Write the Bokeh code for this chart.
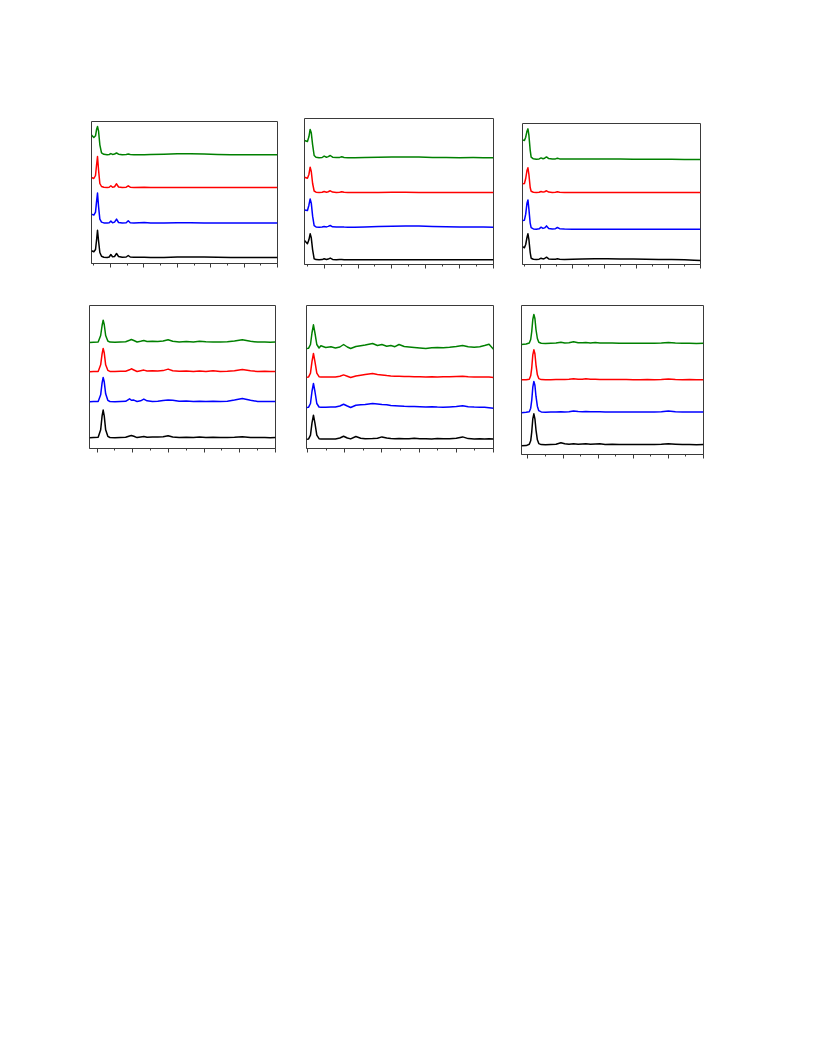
from bokeh.plotting import figure
from bokeh.layouts import column, row
from bokeh.models import Range1d, FixedTicker, CustomJSTickFormatter
from bokeh.embed import file_html
from bokeh.resources import INLINE

# ---------------- data (2-theta, intensity in arbitrary units) ----------------
COLORS = ["#000000", "#0000ff", "#ff0000", "#008000"]  # black, blue, red, green

# panel 1 (top left)
p1_x = [4.3, 5.0, 5.5, 5.8, 6.1, 6.4, 6.8, 7.3, 8.0, 9.0, 9.6, 10.1, 10.6, 11.2, 11.8, 12.4, 13.5,
        14.7, 15.3, 15.9, 17.0, 20.1, 22, 26, 30, 34, 38, 42, 46, 50, 54, 57, 60]
p1_black = [6.7, 5.7, 8, 17, 27.3, 17, 5, 1.2, 0.3, 0, 0.5, 3, 0.8, 1, 4, 1, 0.2, 0.5, 2, 0.5, 0.2,
            0.3, 0, 0, 0.5, 0.6, 0.4, 0.2, 0, 0, 0.1, 0, 0]
p1_blue = [9, 8, 11, 21, 30, 17, 4, 1, 0.2, 0, 0.4, 2, 0.4, 1, 4, 0.6, 0.1, 0.4, 2.3, 0.4, 0.1,
           0.7, 0, 0.1, 0.3, 0.3, 0.2, 0.1, 0, 0, 0, 0, 0]
p1_red = [10, 9, 12, 22, 31, 18, 4, 1, 0.2, 0, 0.3, 1.7, 0.3, 0.8, 3.7, 0.5, 0, 0.3, 1.7, 0.3, 0,
          0.3, 0, 0, 0, 0, 0, 0, 0, 0, 0, 0, 0]
p1_green = [19.7, 17.3, 19, 25, 28.3, 24, 10, 2, 0.5, 0, 0.3, 1.2, 0.4, 0.8, 1.8, 0.6, 0.1, 0.3, 0.8,
            0.3, 0, 0, 0.2, 0.6, 1.0, 1.0, 0.7, 0.4, 0.1, 0, 0, 0.1, 0]
p1_offsets = [6, 40.4, 76, 108.7]

# panel 2 (top middle)
p2_x = [4.2, 5.07, 5.5, 5.87, 6.2, 6.6, 7.05, 7.6, 8.5, 9.4, 10.0, 10.7, 11.2, 11.8, 12.5, 13.6,
        14.6, 15.2, 15.9, 17, 19, 22, 26, 30, 34, 38, 42, 46, 50, 54, 57, 60]
p2_black = [19.3, 16, 20, 26, 22, 10, 1, 0.2, 0, 0.2, 1.0, 0.3, 0.7, 1.7, 0.4, 0.1, 0.2, 0.3, 0.1, 0,
            0, 0, 0, 0, 0, 0, 0, 0, 0, 0, 0, 0]
p2_blue = [17.3, 16.7, 22, 28.3, 24, 11, 1.5, 0.3, 0, 0.2, 0.7, 0.3, 0.8, 1.7, 0.4, 0.1, 0.2, 0.3,
           0.1, 0, 0, 0.2, 0.6, 1.0, 1.3, 1.2, 0.8, 0.5, 0.3, 0.2, 0.1, 0]
p2_red = [15.3, 14.3, 18, 25.3, 21, 9, 1.5, 0.3, 0, 0.2, 1.0, 0.3, 0.8, 1.7, 0.4, 0.1, 0.2, 0.7, 0.2,
          0, 0, 0, 0.1, 0.2, 0.2, 0.1, 0, 0, 0, 0, 0, 0]
p2_green = [17.3, 16.3, 21, 28.3, 25, 13, 2.3, 0.5, 0, 0.3, 1.7, 0.6, 1.2, 2.3, 0.6, 0.2, 0.4, 1.0,
            0.3, 0.1, 0, 0.2, 0.5, 0.8, 0.9, 0.7, 0.4, 0.2, 0.1, 0.2, 0.1, 0]
p2_offsets = [4.7, 37.3, 72, 106.7]

# panel 3 (top right)
p3_x = [4.4, 5.0, 5.4, 5.8, 6.1, 6.4, 6.8, 7.1, 7.8, 8.7, 9.6, 10.2, 10.8, 11.3, 11.9, 12.6, 13.7,
        14.7, 15.3, 16, 17.5, 20, 23, 27, 31, 35, 39, 43, 47, 51, 55, 58, 60]
p3_black = [13, 11.7, 15, 22, 25.7, 20, 7, 1.3, 0.3, 0, 0.3, 1.3, 0.6, 1.0, 2.3, 0.6, 0.2, 0.3, 0.7,
            0.3, 0.1, 0.3, 0.6, 0.8, 0.8, 0.6, 0.4, 0.2, 0.1, 0, -0.3, -0.8, -1.0]
p3_blue = [8.7, 9, 15, 26, 29.3, 20, 6, 1.5, 0.3, 0, 0.4, 2.0, 0.8, 1.3, 3.3, 0.8, 0.2, 0.5, 1.7, 0.5,
           0.1, 0, 0, 0, 0, 0, 0, 0, 0, 0, 0, 0, 0]
p3_red = [8.7, 9, 14, 22, 24.7, 18, 5, 1.2, 0.3, 0, 0.2, 1.0, 0.4, 0.8, 1.7, 0.4, 0.1, 0.2, 0.7, 0.2,
          0, 0, 0.1, 0.1, 0.1, 0, 0, 0, 0, 0, 0, 0, 0]
p3_green = [19.3, 18.7, 22, 28, 30.3, 24, 9, 2, 0.4, 0, 0.3, 1.3, 0.5, 1.0, 2.3, 0.6, 0.2, 0.3, 1.0,
            0.3, 0.1, 0.1, 0.2, 0.3, 0.2, 0.1, 0, 0, 0, -0.1, -0.2, -0.3, -0.3]
p3_offsets = [5, 35.3, 72, 105.3]

# panel 4 (bottom left)
p4_x = [7.9, 9, 10.3, 11.0, 11.4, 11.7, 12.0, 12.4, 13.0, 13.6, 15, 16.5, 18, 19.1, 19.6, 20.3, 21.2,
        22.2, 23.1, 24, 25.5, 27, 28.5, 29.9, 31.2, 33, 35, 37, 38.7, 40.5, 42.5, 44.5, 46.5, 48.5,
        50.7, 53, 55, 57, 58.5, 60]
p4_black = [0, 0.3, 0.5, 8, 22, 27.7, 22, 8, 1.5, 0.3, 0, 0.4, 0.5, 1.8, 2.3, 1.5, 0.2, 0.8, 1.3, 0.6,
            0.9, 0.7, 1.0, 2.0, 0.8, 0.3, 0.5, 0.2, 0.8, 0.3, 0.5, 0.2, 0.3, 0.5, 1.0, 0.4, 0.2, 0.4,
            0.1, 0.3]
p4_blue = [0, 0.2, 0.4, 7, 19, 24.3, 20, 8, 1.5, 0.3, 0, 0.3, 0.5, 3.0, 1.5, 1.7, 0.3, 1.0, 2.7, 1.0,
           0.4, 0.6, 1.4, 1.7, 1.5, 0.5, 0.8, 0.4, 0.6, 0.3, 0.5, 0.3, 0.6, 1.8, 3.3, 1.5, 0.4, 0.3,
           0.2, 0.3]
p4_red = [0, 0.3, 0.4, 7, 18, 23.3, 19, 7, 1.5, 0.4, 0.2, 0.5, 0.6, 2.0, 3.0, 1.8, 0.3, 1.0, 1.7, 0.8,
          1.0, 0.9, 1.2, 2.7, 1.0, 0.5, 0.8, 0.3, 0.9, 0.4, 1.1, 0.4, 0.6, 1.0, 2.3, 1.0, 0.3, 0.5,
          0.2, 0.3]
p4_green = [0, 0.3, 0.5, 7, 17, 22.3, 18, 7, 1.5, 0.4, 0.3, 0.6, 0.8, 2.2, 3.0, 2.0, 0.5, 1.2, 2.0,
            1.0, 1.2, 1.0, 1.4, 2.7, 1.2, 0.6, 0.9, 0.5, 1.2, 0.7, 0.6, 0.4, 0.7, 1.5, 2.7, 1.2, 0.4,
            0.6, 0.3, 0.4]
p4_offsets = [10.7, 46.7, 76.7, 106]

# panel 5 (bottom middle)
p5_x = [9.73, 10.3, 10.8, 11.2, 11.6, 12.0, 12.5, 13.1, 13.6, 14.9, 16.3, 17.5, 18.7, 19.7, 20.7,
        21.6, 23.0, 24.3, 25.5, 27.5, 28.8, 30.0, 31.3, 32.4, 33.5, 34.6, 36.0, 37.3, 38.7, 40.2,
        41.8, 43.4, 44.9, 46.5, 48.2, 50.0, 51.7, 53.2, 54.8, 56.3, 57.6, 58.8, 60.0]
p5_black = [0, 0.3, 4, 16, 24, 16, 4, 0.5, 0.2, 0.1, 0.3, 0.2, 1.2, 3, 1.2, 0.3, 2.7, 1.0, 0.5, 0.6,
            1.0, 2.3, 1.2, 0.6, 0.5, 0.7, 0.4, 0.5, 1.0, 0.4, 0.5, 0.3, 0.6, 0.4, 0.5, 1.0, 2.3, 0.6,
            0.3, 0.5, 0.3, 0.4, 0.3]
p5_blue = [0, 0.3, 4, 16, 24, 16, 4, 0.5, 0.3, 0.2, 0.4, 0.4, 1.5, 3.3, 1.5, 0, 2.3, 2.7, 3.0, 4.0,
           3.5, 3.0, 2.8, 2.0, 1.8, 1.6, 1.2, 1.0, 1.0, 0.8, 0.5, 0.7, 0.4, 0.3, 0.6, 1.0, 1.7, 0.8,
           0.4, 0.2, 0.3, -0.2, -0.7]
p5_red = [0, 0.3, 4, 15.5, 23.7, 15.5, 4, 0.5, 0.2, 0.3, 0.2, 0.3, 1.0, 2.3, 1.0, -0.3, 1.2, 2.0, 2.7,
          3.7, 2.8, 2.3, 1.6, 1.2, 1.0, 1.0, 0.7, 0.6, 0.5, 0.4, 0.3, 0.5, 0.2, 0.4, 0.5, 0.8, 1.0,
          0.5, 0.2, 0.3, 0.1, 0.2, -0.3]
p5_green = [0, 0.3, 4, 15.5, 23.7, 15.5, 4, 0.5, 2.7, 1.0, 1.7, 0.6, 1.5, 4.0, 1.5, 0, 2.0, 2.8, 3.5,
            5.0, 3.0, 4.0, 2.3, 3.0, 1.8, 4.0, 2.0, 1.5, 1.0, 0.5, 0, 0.8, 1.0, 0.8, 1.2, 2.0, 3.0,
            1.8, 1.3, 1.8, 3.0, 4.3, -0.7]
p5_offsets = [9.3, 41, 71.3, 100]

# panel 6 (bottom right)
p6_x = [8.18, 9.5, 10.4, 10.8, 11.1, 11.4, 11.7, 12.0, 12.3, 12.7, 13.1, 13.8, 15, 16.5, 18, 19.4,
        20.5, 21.7, 23.0, 24.3, 25.5, 26.5, 27.8, 29.2, 30.5, 32, 34, 36, 38, 40, 42, 44, 46, 48, 50,
        52, 54, 56, 58, 60]
p6_black = [-1, -0.8, 0.5, 4, 13, 26, 31, 26, 15, 5, 1.2, 0.2, 0, 0.2, 0.5, 2.0, 1.0, 0.5, 1.0, 0.6,
            0.8, 1.0, 0.6, 0.8, 1.0, 0.4, 0.5, 0.2, 0.4, 0.3, 0.2, 0.4, 0.2, 0.5, 1.0, 0.6, 0.2, 0.3,
            0.1, 0.2]
p6_blue = [-0.5, 0, 0.5, 4, 12, 25, 30.7, 27, 16, 6, 1.5, 0.3, 0, 0.2, 0.3, 0.5, 0.3, 0.5, 1.3, 0.6,
           0.5, 0.8, 0.4, 0.5, 0.4, 0.2, 0.3, 0.1, 0.2, 0.2, 0.1, 0.3, 0.2, 0.4, 1.3, 0.5, 0.2, 0.2,
           0.1, 0.2]
p6_red = [0, 0, 0.5, 4, 12, 25, 30, 26, 15, 5, 1.2, 0.2, 0, 0.1, 0.2, 0.4, 0.3, 0.5, 1.0, 0.5, 0.6,
          1.0, 0.5, 0.6, 0.4, 0.2, 0.3, 0.2, 0.2, 0.1, 0.1, 0.2, 0.1, 0.3, 0.7, 0.3, 0.1, 0.2, 0.1, 0.1]
p6_green = [-1, -0.5, 0.5, 4, 12, 24, 29, 25, 14, 5, 1.2, 0.3, 0.1, 0.3, 0.4, 1.3, 0.5, 0.8, 1.7, 0.8,
            0.7, 0.9, 0.6, 1.0, 0.6, 0.4, 0.5, 0.3, 0.3, 0.2, 0.2, 0.3, 0.2, 0.4, 1.0, 0.5, 0.2, 0.3,
            0.1, 0.2]
p6_offsets = [9.7, 42.3, 74.7, 111]

TOP_MAJOR = [10, 20, 30, 40, 50, 60]
TOP_MINOR = [5, 15, 25, 35, 45, 55]
BOT_MAJOR = [10, 20, 30, 40, 50, 60]
BOT_MINOR = [15, 25, 35, 45, 55]

FRAME = "#3a3a3a"


def make_panel(x, traces, offsets, x0, ytop, major, minor, geom):
    w, h, bl, br, bt, bb = geom
    p = figure(width=w, height=h, x_range=Range1d(x0, 60), y_range=Range1d(0, ytop),
               output_backend="svg", toolbar_location=None, y_axis_location=None,
               min_border_left=bl, min_border_right=br, min_border_top=bt,
               min_border_bottom=bb)
    p.xgrid.visible = False
    p.ygrid.visible = False
    p.outline_line_color = FRAME
    p.outline_line_width = 1
    p.background_fill_color = "white"
    p.border_fill_color = "white"
    ax = p.xaxis[0]
    ax.ticker = FixedTicker(ticks=major, minor_ticks=minor)
    ax.formatter = CustomJSTickFormatter(code="return ''")
    ax.major_label_standoff = 0
    ax.major_label_text_font_size = "2px"
    ax.axis_line_color = FRAME
    ax.major_tick_line_color = FRAME
    ax.minor_tick_line_color = FRAME
    ax.major_tick_in = 0
    ax.major_tick_out = 4
    ax.minor_tick_in = 0
    ax.minor_tick_out = 2
    for ys, off, col in zip(traces, offsets, COLORS):
        p.line(x, [off + v for v in ys], line_color=col, line_width=1.5, line_join="round")
    return p


f1 = make_panel(p1_x, [p1_black, p1_blue, p1_red, p1_green], p1_offsets, 4.3, 142,
                TOP_MAJOR, TOP_MINOR, (292, 290, 91, 15, 121, 27))
f2 = make_panel(p2_x, [p2_black, p2_blue, p2_red, p2_green], p2_offsets, 4.2, 146,
                TOP_MAJOR, TOP_MINOR, (216, 290, 12, 15, 118, 26))
f3 = make_panel(p3_x, [p3_black, p3_blue, p3_red, p3_green], p3_offsets, 4.4, 141,
                TOP_MAJOR, TOP_MINOR, (208, 290, 14, 16, 123, 26))
f4 = make_panel(p4_x, [p4_black, p4_blue, p4_red, p4_green], p4_offsets, 7.87, 143,
                BOT_MAJOR, BOT_MINOR, (292, 180, 89, 17, 15, 22))
f5 = make_panel(p5_x, [p5_black, p5_blue, p5_red, p5_green], p5_offsets, 9.73, 143,
                BOT_MAJOR, BOT_MINOR, (216, 180, 14, 15, 15, 22))
f6 = make_panel(p6_x, [p6_black, p6_blue, p6_red, p6_green], p6_offsets, 8.18, 149,
                BOT_MAJOR, BOT_MINOR, (208, 180, 13, 13, 15, 16))

# each panel is wrapped on its own so its frame keeps its own borders
layout = column(row(column(f1), column(f2), column(f3)),
                row(column(f4), column(f5), column(f6)))
open("out.html", "w").write(file_html(layout, INLINE))
